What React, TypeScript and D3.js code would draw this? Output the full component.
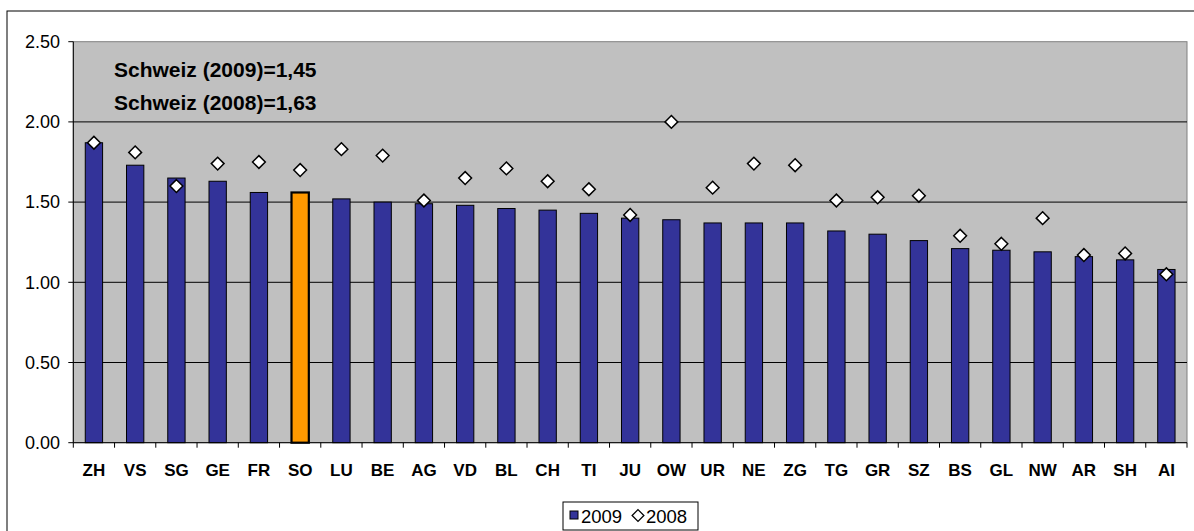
import React from "react";
import * as d3 from "d3";

// Kantone, sortiert nach dem Wert 2009
const cantons = ["ZH", "VS", "SG", "GE", "FR", "SO", "LU", "BE", "AG", "VD", "BL", "CH", "TI", "JU", "OW", "UR", "NE", "ZG", "TG", "GR", "SZ", "BS", "GL", "NW", "AR", "SH", "AI"];
const values2009 = [1.87, 1.73, 1.65, 1.63, 1.56, 1.56, 1.52, 1.5, 1.49, 1.48, 1.46, 1.45, 1.43, 1.4, 1.39, 1.37, 1.37, 1.37, 1.32, 1.3, 1.26, 1.21, 1.2, 1.19, 1.16, 1.14, 1.08];
const values2008 = [1.87, 1.81, 1.6, 1.74, 1.75, 1.7, 1.83, 1.79, 1.51, 1.65, 1.71, 1.63, 1.58, 1.42, 2.0, 1.59, 1.74, 1.73, 1.51, 1.53, 1.54, 1.29, 1.24, 1.4, 1.17, 1.18, 1.05];
const yTicks = [0, 0.5, 1.0, 1.5, 2.0, 2.5];
const highlighted = "SO";
const notes = ["Schweiz (2009)=1,45", "Schweiz (2008)=1,63"];
const seriesNames = ["2009", "2008"];

const W = 1194;
const H = 531;
const plot = { left: 73.3, right: 1187, top: 41.7, bottom: 442.7 };
const FONT = "'Liberation Sans', Arial, sans-serif";
const BLUE = "#333399";
const ORANGE = "#FF9900";

export default function App() {
  const x = d3.scaleBand<string>().domain(cantons).range([plot.left, plot.right]).paddingInner(0).paddingOuter(0);
  const y = d3.scaleLinear().domain([0, 2.5]).range([plot.bottom, plot.top]);
  const barW = x.bandwidth() * 0.42;
  const diamond = d3.symbol().type(d3.symbolDiamond2).size(104)();
  const legendDiamond = d3.symbol().type(d3.symbolDiamond2).size(88)();

  return (
    <svg width={W} height={H} style={{ position: "fixed", left: 0, top: 0, background: "#fff" }} fontFamily={FONT}>
      {/* Rahmen des Diagrammbereichs */}
      <rect x={7} y={11} width={1200} height={540} fill="#fff" stroke="#000" strokeWidth={1} />

      {/* Zeichnungsfläche */}
      <rect x={plot.left} y={plot.top} width={plot.right - plot.left} height={plot.bottom - plot.top} fill="#C0C0C0" stroke="#808080" strokeWidth={1} />

      {/* Gitternetzlinien */}
      {yTicks.filter((t) => t > 0 && t < 2.5).map((t) => (
        <line key={t} x1={plot.left} x2={plot.right} y1={y(t)} y2={y(t)} stroke="#000" strokeWidth={1} />
      ))}

      {/* Anmerkungen */}
      {notes.map((n, i) => (
        <text key={n} x={114} y={77 + i * 32.5} fontSize={21} fontWeight="bold" fill="#000">{n}</text>
      ))}

      {/* Balken 2009 */}
      {cantons.map((c, i) => {
        const cx = (x(c) as number) + x.bandwidth() / 2;
        const isHi = c === highlighted;
        return (
          <rect
            key={c}
            x={cx - barW / 2}
            y={y(values2009[i])}
            width={barW}
            height={y(0) - y(values2009[i])}
            fill={isHi ? ORANGE : BLUE}
            stroke="#000"
            strokeWidth={isHi ? 2.2 : 1}
          />
        );
      })}

      {/* Werte 2008 */}
      {cantons.map((c, i) => {
        const cx = (x(c) as number) + x.bandwidth() / 2;
        return (
          <path key={c} d={diamond as string} transform={`translate(${cx},${y(values2008[i])})`} fill="#fff" stroke="#000" strokeWidth={1.5} />
        );
      })}

      {/* Y-Achse */}
      <line x1={plot.left} x2={plot.left} y1={plot.top} y2={plot.bottom} stroke="#000" />
      {yTicks.map((t) => (
        <g key={t}>
          <line x1={plot.left - 5} x2={plot.left} y1={y(t)} y2={y(t)} stroke="#000" />
          <text x={60} y={y(t)} dy="0.35em" textAnchor="end" fontSize={18} fill="#000">{t.toFixed(2)}</text>
        </g>
      ))}

      {/* X-Achse */}
      <line x1={plot.left} x2={plot.right} y1={plot.bottom} y2={plot.bottom} stroke="#000" />
      {cantons.map((c) => (
        <line key={"t" + c} x1={x(c) as number} x2={x(c) as number} y1={plot.bottom} y2={plot.bottom + 5} stroke="#000" />
      ))}
      <line x1={plot.right} x2={plot.right} y1={plot.bottom} y2={plot.bottom + 5} stroke="#000" />
      {cantons.map((c) => (
        <text key={"l" + c} x={(x(c) as number) + x.bandwidth() / 2} y={475.5} textAnchor="middle" fontSize={17} fontWeight="bold" fill="#000">{c}</text>
      ))}

      {/* Legende */}
      <g>
        <rect x={563} y={502} width={135} height={28} fill="#fff" stroke="#000" />
        <rect x={570} y={511} width={8} height={8} fill={BLUE} stroke="#000" strokeWidth={1} />
        <text x={581} y={522.5} fontSize={18.5} fill="#000">{seriesNames[0]}</text>
        <path d={legendDiamond as string} transform="translate(638,515.5)" fill="#fff" stroke="#000" strokeWidth={1.3} />
        <text x={646} y={522.5} fontSize={18.5} fill="#000">{seriesNames[1]}</text>
      </g>
    </svg>
  );
}
